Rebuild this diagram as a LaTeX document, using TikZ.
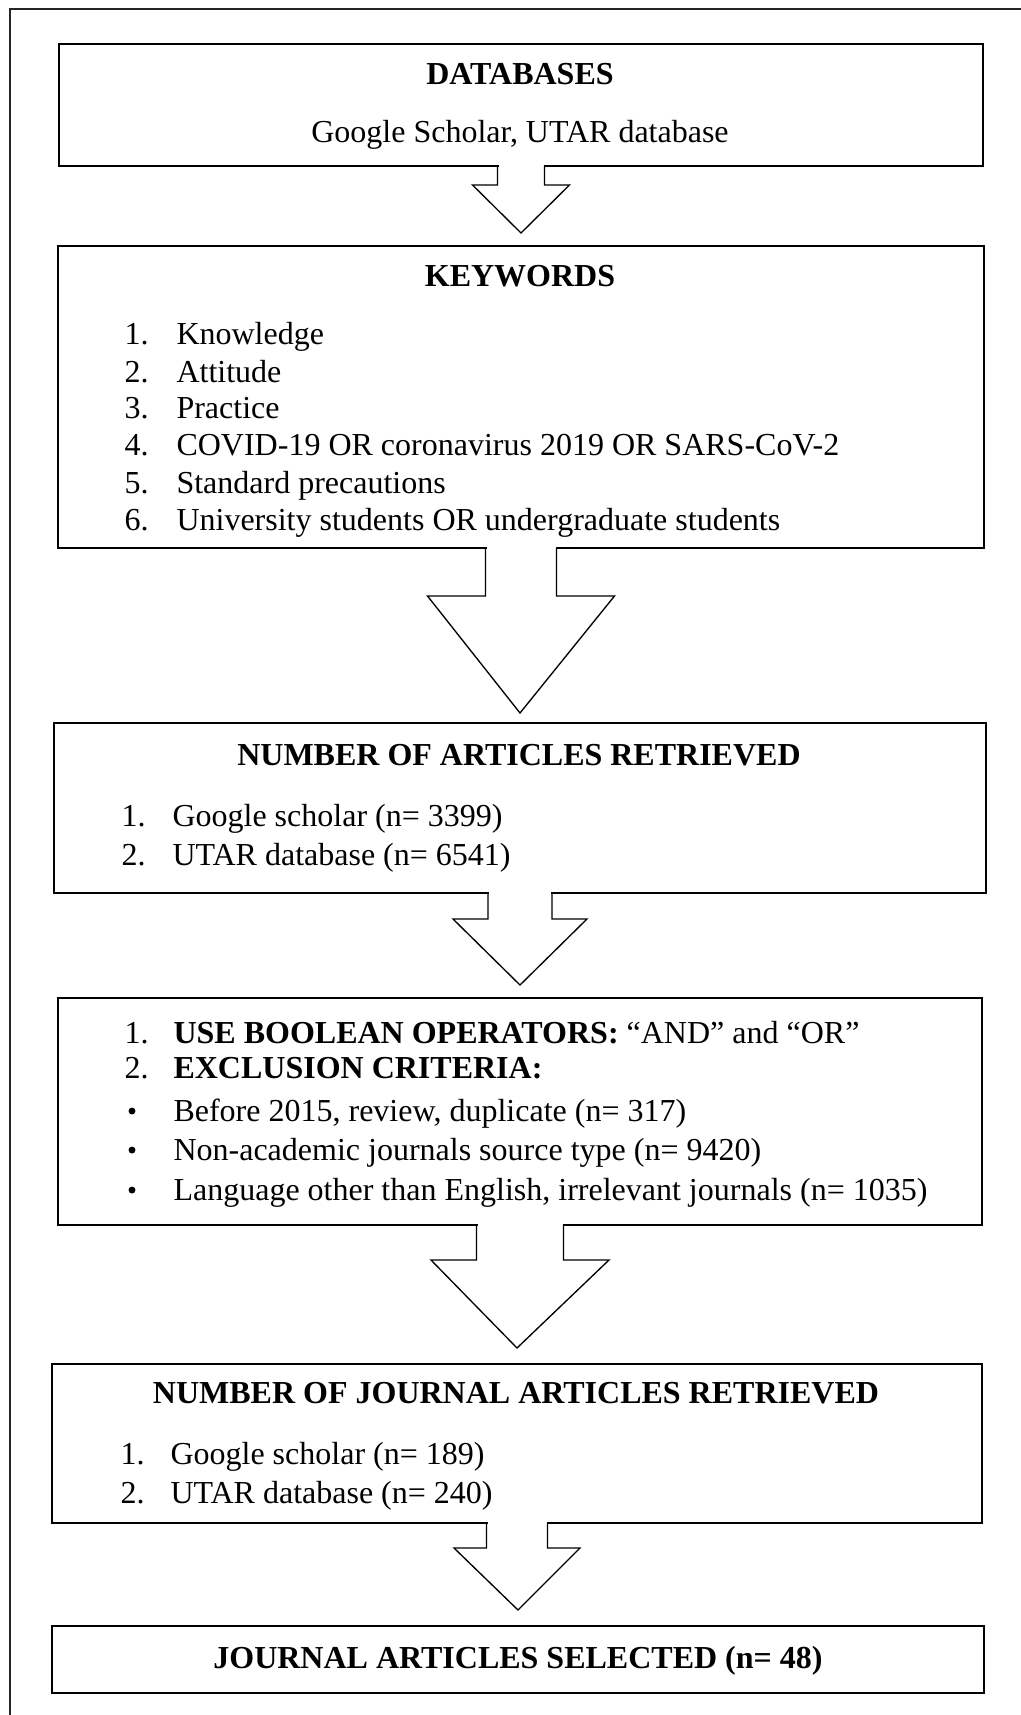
\documentclass[tikz,border=0pt]{standalone}
\usepackage{fontspec}
\setmainfont{Liberation Serif}
\usetikzlibrary{calc,fit}
\newcommand\flowarrow[6]{%
  \fill[white] ($(#1.south)+(-#3+1,-1.6)$) rectangle ($(#1.south)+(#3-1,1.6)$);
  \draw[arrst] ($(#1.south)+(-#3,0)$) -- ($(#1.south)+(-#3,#5)$) -- ($(#1.south)+(-#4,#5)$)
     -- ($(#2.north)+(0,-#6)$) -- ($(#1.south)+(#4,#5)$) -- ($(#1.south)+(#3,#5)$) -- ($(#1.south)+(#3,0)$);
}
\begin{document}
\begin{tikzpicture}[x=0.375pt,y=-0.375pt,
  every node/.style={font=\fontsize{12}{14}\selectfont},
  boxst/.style={draw=black, line width=0.75pt, inner sep=0pt, outer sep=0pt},
  arrst/.style={draw=black, line width=0.5pt, line join=miter},
  framest/.style={draw=black!85, line width=0.4pt},
  title/.style={anchor=base, inner sep=0pt, font=\fontsize{12}{14}\selectfont\bfseries},
  txt/.style={anchor=base west, inner sep=0pt},
  dotst/.style={circle, fill=black, inner sep=0pt, minimum size=2.6pt}]
\useasboundingbox (0,0) rectangle (1020,1715);
\fill[white] (0,0) rectangle (1020,1715);
% outer frame (cut off at right and bottom)
\draw[framest] (10,1716) -- (10,9) -- (1021,9);

% boxes
\node[boxst, fit={(59,44) (983,166)}] (b1) {};
\node[boxst, fit={(58,246) (984,548)}] (b2) {};
\node[boxst, fit={(54,723) (986,893)}] (b3) {};
\node[boxst, fit={(58,998) (982,1225)}] (b4) {};
\node[boxst, fit={(52,1364) (982,1523)}] (b5) {};
\node[boxst, fit={(52,1626) (984,1693)}] (b6) {};

% arrows
\flowarrow{b1}{b2}{23.5}{48.5}{19}{13}
\flowarrow{b2}{b3}{35.5}{93.5}{48}{10}
\flowarrow{b3}{b4}{32}{67}{26}{13}
\flowarrow{b4}{b5}{43.5}{89}{35}{16}
\flowarrow{b5}{b6}{30.5}{63}{25}{16}

% box 1
\node[title] (t1) at (520,85) {DATABASES};
\node[anchor=base, inner sep=0pt] (t1a) at (520,143) {Google Scholar, UTAR database};

% box 2
\node[title] (t2) at (520,286) {KEYWORDS};
\node[txt] (n21) at (124,345) {1.};
\node[txt] (k21) at (176,345) {Knowledge};
\node[txt] (n22) at (124,382) {2.};
\node[txt] (k22) at (176,382) {Attitude};
\node[txt] (n23) at (124,418) {3.};
\node[txt] (k23) at (176,418) {Practice};
\node[txt] (n24) at (124,455) {4.};
\node[txt] (k24) at (176,455) {COVID-19 OR coronavirus 2019 OR SARS-CoV-2};
\node[txt] (n25) at (124,493) {5.};
\node[txt] (k25) at (176,493) {Standard precautions};
\node[txt] (n26) at (124,530) {6.};
\node[txt] (k26) at (176,530) {University students OR undergraduate students};

% box 3
\node[title] (t3) at (519,765) {NUMBER OF ARTICLES RETRIEVED};
\node[txt] (n31) at (121,826) {1.};
\node[txt] (k31) at (172,826) {Google scholar (n= 3399)};
\node[txt] (n32) at (121,865) {2.};
\node[txt] (k32) at (172,865) {UTAR database (n= 6541)};

% box 4
\node[txt] (n41) at (124,1043) {1.};
\node[txt] (k41) at (173,1043) {\bfseries USE BOOLEAN OPERATORS:\mdseries{} “AND” and “OR”};
\node[txt] (n42) at (124,1078) {2.};
\node[txt] (k42) at (173,1078) {\bfseries EXCLUSION CRITERIA:};
\node[dotst] (d43) at (132,1111) {};
\node[txt] (k43) at (173,1121) {Before 2015, review, duplicate (n= 317)};
\node[dotst] (d44) at (132,1150) {};
\node[txt] (k44) at (173,1160) {Non-academic journals source type (n= 9420)};
\node[dotst] (d45) at (132,1190) {};
\node[txt] (k45) at (173,1200) {Language other than English, irrelevant journals (n= 1035)};

% box 5
\node[title] (t5) at (516,1403) {NUMBER OF JOURNAL ARTICLES RETRIEVED};
\node[txt] (n51) at (120,1464) {1.};
\node[txt] (k51) at (170,1464) {Google scholar (n= 189)};
\node[txt] (n52) at (120,1503) {2.};
\node[txt] (k52) at (170,1503) {UTAR database (n= 240)};

% box 6
\node[title] (t6) at (518,1668) {JOURNAL ARTICLES SELECTED (n= 48)};
\end{tikzpicture}
\end{document}
